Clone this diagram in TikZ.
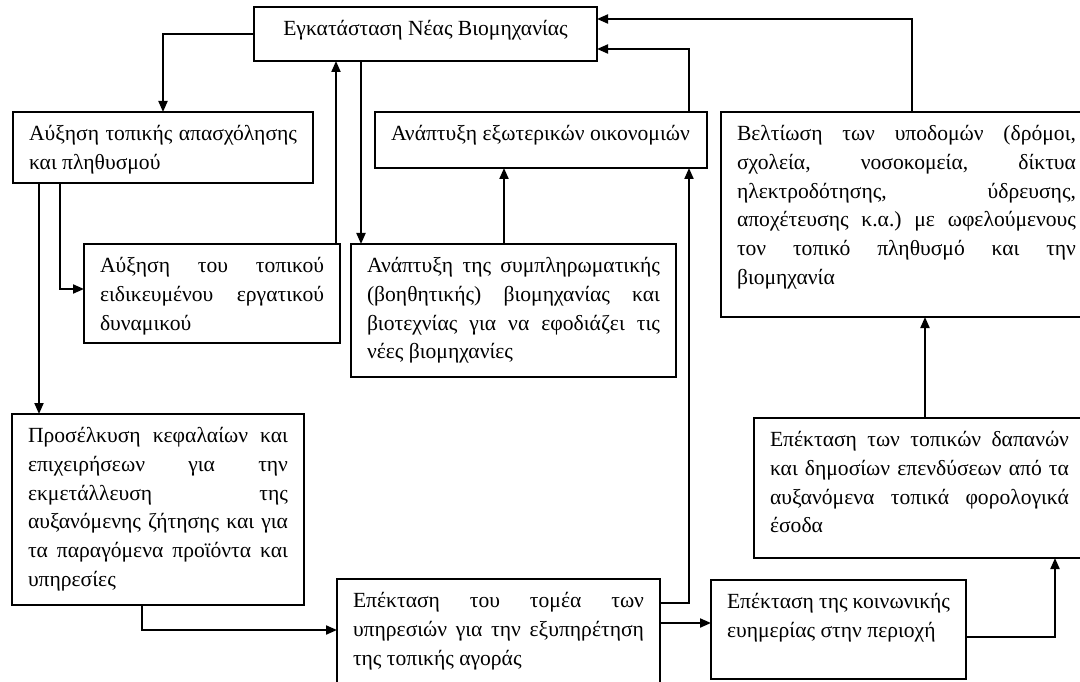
\documentclass[tikz,border=0pt]{standalone}
\usepackage{fontspec}
\setmainfont{Liberation Serif}
\usetikzlibrary{arrows.meta,calc}
\frenchspacing
\newcommand\jl[1]{\makebox[\linewidth][s]{#1}\\}
\newcommand\bt[3]{\parbox[c][#2pt][t]{#1pt}{\rule{0pt}{28.5pt}#3}}
\tikzset{
  box/.style={draw, line width=1.2pt, inner xsep=16pt, inner ysep=0pt, outer sep=0pt, anchor=north west,
    font=\fontsize{21.6}{28.8}\selectfont},
  conn/.style={line width=2pt, -{Triangle[length=11pt,width=9pt]}}
}
\begin{document}
\begin{tikzpicture}[x=1pt,y=-1pt]
\clip (0,0) rectangle (1080,682);
\fill[white] (0,0) rectangle (1080,682);
% boxes
\node[box] (T) at (254,7) {\parbox[c][54pt][t]{311pt}{\centering\rule{0pt}{28.5pt}Εγκατάσταση Νέας Βιομηχανίας}};
\node[box] (A) at (13,112) {\bt{268}{71}{\jl{Αύξηση τοπικής απασχόλησης}και πληθυσμού}};
\node[box] (B) at (84,244) {\bt{224}{99}{\jl{Αύξηση του τοπικού}\jl{ειδικευμένου εργατικού}δυναμικού}};
\node[box] (C) at (351,244) {\bt{293}{133}{\jl{Ανάπτυξη της συμπληρωματικής}\jl{(βοηθητικής) βιομηχανίας και}\jl{βιοτεχνίας για να εφοδιάζει τις}νέες βιομηχανίες}};
\node[box] (D) at (375,112) {\bt{300}{56}{Ανάπτυξη εξωτερικών οικονομιών}};
\node[box] (E) at (721,112) {\bt{339}{205}{\jl{Βελτίωση των υποδομών (δρόμοι,}\jl{σχολεία, νοσοκομεία, δίκτυα}\jl{ηλεκτροδότησης, ύδρευσης,}\jl{αποχέτευσης κ.α.) με ωφελούμενους}\jl{τον τοπικό πληθυσμό και την}βιομηχανία}};
\node[box] (F) at (754,418) {\bt{299}{140}{\jl{Επέκταση των τοπικών δαπανών}\jl{και δημοσίων επενδύσεων από τα}\jl{αυξανόμενα τοπικά φορολογικά}έσοδα}};
\node[box] (G) at (711,580) {\bt{223}{99}{\jl{Επέκταση της κοινωνικής}ευημερίας στην περιοχή}};
\node[box] (H) at (337,579) {\bt{291}{116}{\jl{Επέκταση του τομέα των}\jl{υπηρεσιών για την εξυπηρέτηση}της τοπικής αγοράς}};
\node[box] (P) at (12,414) {\bt{260}{191}{\jl{Προσέλκυση κεφαλαίων και}\jl{επιχειρήσεων για την}\jl{εκμετάλλευση της}\jl{αυξανόμενης ζήτησης και για}\jl{τα παραγόμενα προϊόντα και}υπηρεσίες}};
% helper coordinates
\coordinate (a1) at ([xshift=47pt]A.south west);
\coordinate (a2) at ([xshift=26pt]A.south west);
\coordinate (b1) at ([xshift=-4pt]B.north east);
\coordinate (c1) at ([xshift=10pt]C.north west);
\coordinate (c2) at ([xshift=153pt]C.north west);
\coordinate (d1) at ([xshift=-18pt]D.north east);
\coordinate (e1) at ([xshift=191pt]E.north west);
\coordinate (h1) at ([yshift=-24pt]H.north east);
\coordinate (h2) at ([yshift=-44pt]H.north east);
\coordinate (p1) at ([xshift=130pt]P.south west);
\coordinate (g1) at ([yshift=-57pt]G.north east);
\coordinate (f1) at ([xshift=171pt]F.north west);
% connectors
\draw[conn] (T.west) -| (A.north);
\draw[conn] (a1) |- ([yshift=4.5pt]B.west);
\draw[conn] (a2) -- (a2 |- P.north);
\draw[conn] (b1) -- (b1 |- T.south);
\draw[conn] (c1 |- T.south) -- (c1);
\draw[conn] (c2) -- (c2 |- D.south);
\draw[conn] (d1) |- ([yshift=-15pt]T.east);
\draw[conn] (e1) |- ([yshift=15pt]T.east);
\draw[conn] (h1) -| ([xshift=-18pt]D.south east);
\draw[conn] (h2) -- (h2 -| G.west);
\draw[conn] (p1) |- ([yshift=-51pt]H.north west);
\draw[conn] (g1) -| ([xshift=301pt]F.south west);
\draw[conn] (f1) -- (f1 |- E.south);
\end{tikzpicture}
\end{document}
